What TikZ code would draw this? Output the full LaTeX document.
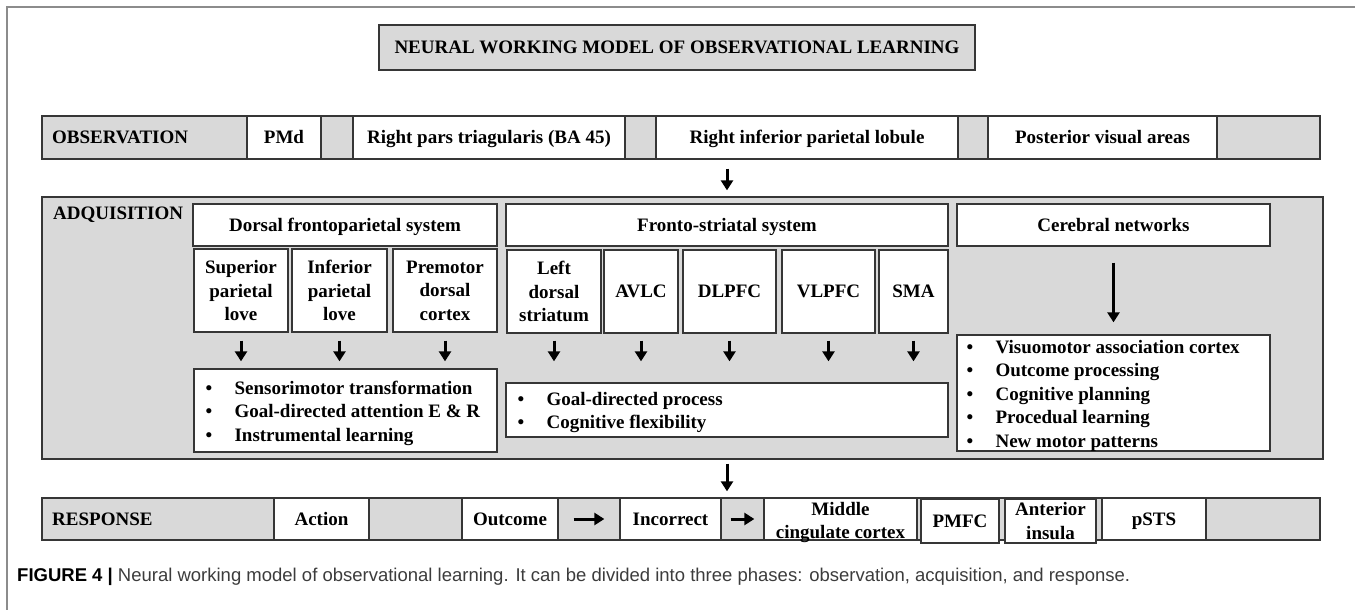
\documentclass[tikz,border=0pt]{standalone}
\usepackage{fontspec}
\setmainfont{Liberation Serif}
\newfontfamily\capfont{Liberation Sans}
\usetikzlibrary{arrows.meta}

\definecolor{panelgray}{HTML}{D9D9D9}
\definecolor{edgegray}{HTML}{363636}
\definecolor{framegray}{HTML}{8C8C8C}
\definecolor{captext}{HTML}{3C3C3C}

\newcommand{\bitem}[1]{\mbox{\makebox[29pt][l]{\textbullet}#1}}

\begin{document}
\begin{tikzpicture}[
    x=1pt, y=-1pt,
    lbl/.style={font=\fontsize{19}{23.5}\selectfont\bfseries},
    band/.style={draw=edgegray, fill=panelgray, line width=1.3pt, inner sep=0pt},
    cell/.style={band, fill=white, lbl, text height=16pt, text depth=3.4pt},
    tallcell/.style={band, fill=white, lbl, align=center},
    listtext/.style={lbl, align=left, anchor=west, inner sep=0pt},
    rowname/.style={lbl, anchor=west, inner sep=0pt},
    arrow/.style={-{Triangle[width=12pt,length=10pt]}, line width=3pt}
  ]
  \useasboundingbox (0,0) rectangle (1355,610);

  % page frame
  \draw[framegray, line width=1.5pt] (7,610) -- (7,7) -- (1355,7);

  % title
  \node[band, lbl, text height=16pt, text depth=3.4pt, minimum width=596pt, minimum height=45pt] (title) at (677,47.5) {NEURAL WORKING MODEL OF OBSERVATIONAL LEARNING};

  % Observation row
  \node[band, minimum width=1278pt, minimum height=43pt] (obsrow) at (681,137.5) {};
  \node[rowname] (obslbl) at (52,137.5) {OBSERVATION};
  \node[cell, minimum width=74pt, minimum height=43pt] (pmd) at (284,137.5) {PMd};
  \node[cell, minimum width=272pt, minimum height=43pt] (pars) at (489,137.5) {Right pars triagularis (BA 45)};
  \node[cell, minimum width=302pt, minimum height=43pt] (ipl) at (807,137.5) {Right inferior parietal lobule};
  \node[cell, minimum width=229pt, minimum height=43pt] (pva) at (1102.5,137.5) {Posterior visual areas};

  % Adquisition panel
  \node[band, minimum width=1281pt, minimum height=262pt] (adq) at (682.5,328) {};
  \node[rowname] (adqlbl) at (53,215) {ADQUISITION};

  % dorsal frontoparietal system
  \node[cell, minimum width=304pt, minimum height=42pt] (dhead) at (345,225) {Dorsal frontoparietal system};
  \node[tallcell, minimum width=94pt, minimum height=83pt] (sup) at (241,290.5) {Superior\\parietal\\love};
  \node[tallcell, minimum width=95pt, minimum height=83pt] (inf) at (339.5,290.5) {Inferior\\parietal\\love};
  \node[tallcell, minimum width=104pt, minimum height=83pt] (pmdc) at (445,290.5) {Premotor\\dorsal\\cortex};
  \node[band, fill=white, minimum width=303pt, minimum height=83pt] (dlist) at (345.5,410.5) {};
  \node[listtext] (dtext) at ([xshift=12pt,yshift=-2.5pt]dlist.west)
    {\bitem{Sensorimotor transformation}\\\bitem{Goal-directed attention E \& R}\\\bitem{Instrumental learning}};

  % fronto-striatal system
  \node[cell, minimum width=442pt, minimum height=42pt] (fhead) at (727,225) {Fronto-striatal system};
  \node[tallcell, minimum width=94pt, minimum height=83pt] (lds) at (554,291.5) {Left\\dorsal\\striatum};
  \node[cell, minimum width=74pt, minimum height=83pt] (avlc) at (641,291.5) {AVLC};
  \node[cell, minimum width=93pt, minimum height=83pt] (dlpfc) at (729.5,291.5) {DLPFC};
  \node[cell, minimum width=93pt, minimum height=83pt] (vlpfc) at (828.5,291.5) {VLPFC};
  \node[cell, minimum width=69pt, minimum height=83pt] (sma) at (913.5,291.5) {SMA};
  \node[band, fill=white, minimum width=442pt, minimum height=54pt] (flist) at (727,410) {};
  \node[listtext] (ftext) at ([xshift=12pt,yshift=-2.5pt]flist.west)
    {\bitem{Goal-directed process}\\\bitem{Cognitive flexibility}};

  % cerebral networks
  \node[cell, minimum width=313pt, minimum height=42pt] (chead) at (1113.5,225) {Cerebral networks};
  \node[band, fill=white, minimum width=313pt, minimum height=116pt] (clist) at (1113.5,393) {};
  \node[listtext] (ctext) at ([xshift=10pt,yshift=-2.5pt]clist.west)
    {\bitem{Visuomotor association cortex}\\\bitem{Outcome processing}\\\bitem{Cognitive planning}\\\bitem{Procedual learning}\\\bitem{New motor patterns}};

  % Response row
  \node[band, minimum width=1278pt, minimum height=42pt] (resprow) at (681,519) {};
  \node[rowname] (resplbl) at (52,519) {RESPONSE};
  \node[cell, minimum width=95pt, minimum height=42pt] (action) at (321.5,519) {Action};
  \node[cell, minimum width=96pt, minimum height=42pt] (outcome) at (510,519) {Outcome};
  \node[cell, minimum width=101pt, minimum height=42pt] (incorrect) at (670.5,519) {Incorrect};
  \node[band, fill=white, minimum width=153pt, minimum height=42pt] (mcc) at (840.5,519) {};
  \node[lbl, align=center, inner sep=0pt] (mcctext) at ([yshift=-3.5pt]mcc.center) {Middle\\cingulate cortex};
  \node[cell, minimum width=78pt, minimum height=44pt] (pmfc) at (960,521) {PMFC};
  \node[tallcell, minimum width=91pt, minimum height=44pt] (ains) at (1050.5,521) {Anterior\\insula};
  \node[cell, minimum width=104pt, minimum height=42pt] (psts) at (1154,519) {pSTS};

  % arrows
  \draw[arrow, shorten <=9pt, shorten >=6pt] (obsrow.south -| fhead) -- (adq.north -| fhead);
  \foreach \b in {sup,inf,pmdc}
    \draw[arrow, shorten <=8pt, shorten >=7pt] (\b.south) -- (\b.south |- dlist.north);
  \foreach \b in {lds,avlc,dlpfc,vlpfc,sma}
    \draw[arrow, shorten <=7pt, shorten >=21pt] (\b.south) -- (\b.south |- flist.north);
  \draw[arrow, shorten <=16pt, shorten >=12pt] (chead) -- (clist);
  \draw[arrow, shorten <=4pt, shorten >=6pt] (adq.south -| fhead) -- (resprow.north -| fhead);
  \draw[arrow, shorten <=15pt, shorten >=15pt] (outcome) -- (incorrect);
  \draw[arrow, shorten <=9pt, shorten >=9pt] (incorrect) -- (mcc);

  % caption
  \node[anchor=west, inner sep=0pt, text=captext, font=\capfont\fontsize{18.5}{22}\selectfont] (caption) at (17,577)
    {\textcolor{black}{\bfseries FIGURE 4 |} Neural working model of observational learning. It can be divided into three phases: observation, acquisition, and response.};
\end{tikzpicture}
\end{document}
